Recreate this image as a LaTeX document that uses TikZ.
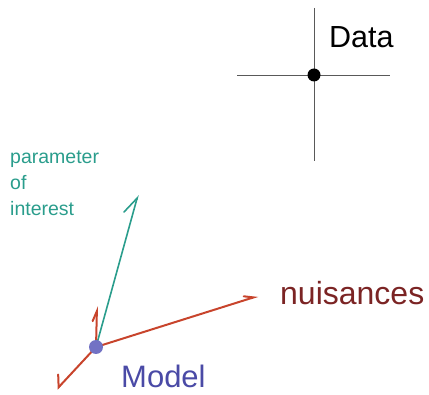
\documentclass[tikz,border=0pt]{standalone}
\usepackage{fontspec}
\setmainfont{Liberation Sans}
\usetikzlibrary{arrows.meta}
\definecolor{axisred}{HTML}{C8442C}
\definecolor{poiteal}{HTML}{2A9D8C}
\definecolor{nuisdark}{HTML}{7B2424}
\definecolor{modelblue}{HTML}{4A4AA6}
\definecolor{modeldot}{HTML}{7272C4}
\tikzset{
  barb/.style 2 args={-{Straight Barb[harpoon,length=#1,width=#2,line cap=round]}},
  barbswap/.style 2 args={-{Straight Barb[harpoon,swap,length=#1,width=#2,line cap=round]}},
  redaxis/.style={draw=axisred,line width=2pt,line cap=round},
  tealaxis/.style={draw=poiteal,line width=1.6pt,line cap=round},
  crossline/.style={draw=black!65,line width=0.9pt},
  lbl/.style={inner sep=0pt,anchor=base west}
}
\begin{document}
\begin{tikzpicture}[x=1pt,y=-1pt]
\useasboundingbox (0,0) rectangle (429,395);
% data point on its crosshair
\coordinate (dtop) at (314,8);
\coordinate (dbot) at (314,161);
\coordinate (dleft) at (237,75);
\coordinate (dright) at (390,75);
\draw[crossline] (dtop) -- (dbot);
\draw[crossline] (dleft) -- (dright);
\node[circle,fill=black,minimum size=13pt,inner sep=0pt] (data) at (314,75) {};
\node[lbl,font=\fontsize{30.5}{30.5}\selectfont] (datalbl) at (329,48) {Data};
% model point with its parameter axes
\coordinate (m) at (96,347);
\coordinate (poi) at (138,195);
\coordinate (nui) at (258,296);
\coordinate (up) at (97,306);
\coordinate (dl) at (57,389);
\draw[tealaxis,barb={17pt}{18pt}] (m) -- (poi);
\draw[redaxis,barb={9pt}{8pt}] (m) -- (nui);
\draw[redaxis,barb={10pt}{8pt}] (m) -- (up);
\draw[redaxis,barbswap={9pt}{18pt}] (m) -- (dl);
\node[circle,fill=modeldot,minimum size=14pt,inner sep=0pt] (model) at (m) {};
\node[lbl,font=\fontsize{32}{32}\selectfont,text=nuisdark] (nuilbl) at (280,305) {nuisances};
\node[lbl,font=\fontsize{31}{31}\selectfont,text=modelblue] (modellbl) at (121,388) {Model};
\node[lbl,font=\fontsize{19.5}{26}\selectfont,text=poiteal,align=left] (poilbl) at (10,216) {parameter\\of\\interest};
\end{tikzpicture}
\end{document}
